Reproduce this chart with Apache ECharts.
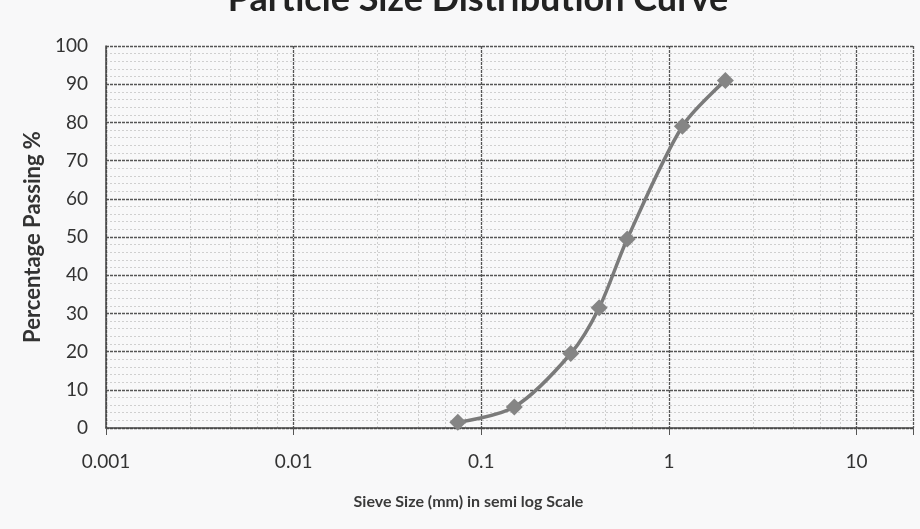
<!DOCTYPE html>
<html>
<head>
<meta charset="utf-8">
<script src="https://cdn.jsdelivr.net/npm/echarts@6/dist/echarts.min.js"></script>
<style>
  html, body { margin: 0; padding: 0; background: #f8f8f9; }
  #chart-container { width: 920px; height: 529px; }
</style>
</head>
<body>
<div id="chart-container"></div>
<script>
var sieveSizes = [0.075, 0.15, 0.3, 0.425, 0.6, 1.18, 2.0];
var percentPassing = [1.5, 5.5, 19.5, 31.5, 49.5, 79, 91];
var xTickLabels = ["0.001", "0.01", "0.1", "1", "10"];

var dom = document.getElementById("chart-container");
var myChart = echarts.init(dom, null, { renderer: "canvas" });

var font = "Lato, 'Open Sans', sans-serif";
var option = {
  backgroundColor: "#f8f8f9",
  animation: false,
  title: {
    text: "Particle Size Distribution Curve",
    left: 473,
    textAlign: "center",
    top: -24,
    textStyle: { fontFamily: font, fontSize: 36, fontWeight: "bold", color: "#222" }
  },
  grid: { left: 106, right: 7, top: 46, bottom: 101 },
  xAxis: {
    type: "log",
    logBase: 10,
    min: 0.001,
    max: 20,
    name: "Sieve Size (mm) in semi log Scale",
    nameLocation: "middle",
    nameGap: 66,
    nameTextStyle: {
      fontFamily: font, fontSize: 16, fontWeight: "bold", color: "#3a3a3a",
      padding: [0, 82, 0, 0]
    },
    axisLine: { lineStyle: { color: "#444", width: 1.5 } },
    axisTick: { show: true, length: 7, lineStyle: { color: "#555" } },
    axisLabel: {
      fontFamily: font, fontSize: 19, color: "#333", margin: 24,
      formatter: function (v) {
        for (var i = 0; i < xTickLabels.length; i++) {
          if (Math.abs(Number(xTickLabels[i]) - v) / v < 1e-6) return xTickLabels[i];
        }
        return "";
      }
    },
    splitLine: { show: true, lineStyle: { color: "#555", width: 1.3, type: [3, 1] } },
    minorTick: { show: false, splitNumber: 5 },
    minorSplitLine: { show: true, lineStyle: { color: "#cfcfcf", width: 1, type: [2, 2] } }
  },
  yAxis: {
    type: "value",
    min: 0,
    max: 100,
    interval: 10,
    name: "Percentage Passing %",
    nameLocation: "middle",
    nameGap: 56,
    nameTextStyle: { fontFamily: font, fontSize: 22, fontWeight: "bold", color: "#333" },
    axisLine: { show: true, lineStyle: { color: "#444", width: 1.5 } },
    axisTick: { show: false },
    axisLabel: { fontFamily: font, fontSize: 19, color: "#333", margin: 18 },
    splitLine: { show: true, lineStyle: { color: "#555", width: 1.3, type: [3, 1] } },
    minorTick: { show: false, splitNumber: 5 },
    minorSplitLine: { show: true, lineStyle: { color: "#cfcfcf", width: 1, type: [2, 2] } }
  },
  series: [
    {
      type: "line",
      data: sieveSizes.map(function (s, i) { return [s, percentPassing[i]]; }),
      smooth: 0.3,
      symbol: "diamond",
      symbolSize: 17,
      itemStyle: { color: "#858585" },
      lineStyle: { color: "#7a7a7a", width: 3.5 }
    }
  ]
};

myChart.setOption(option);
window.addEventListener("resize", myChart.resize);
</script>
</body>
</html>
